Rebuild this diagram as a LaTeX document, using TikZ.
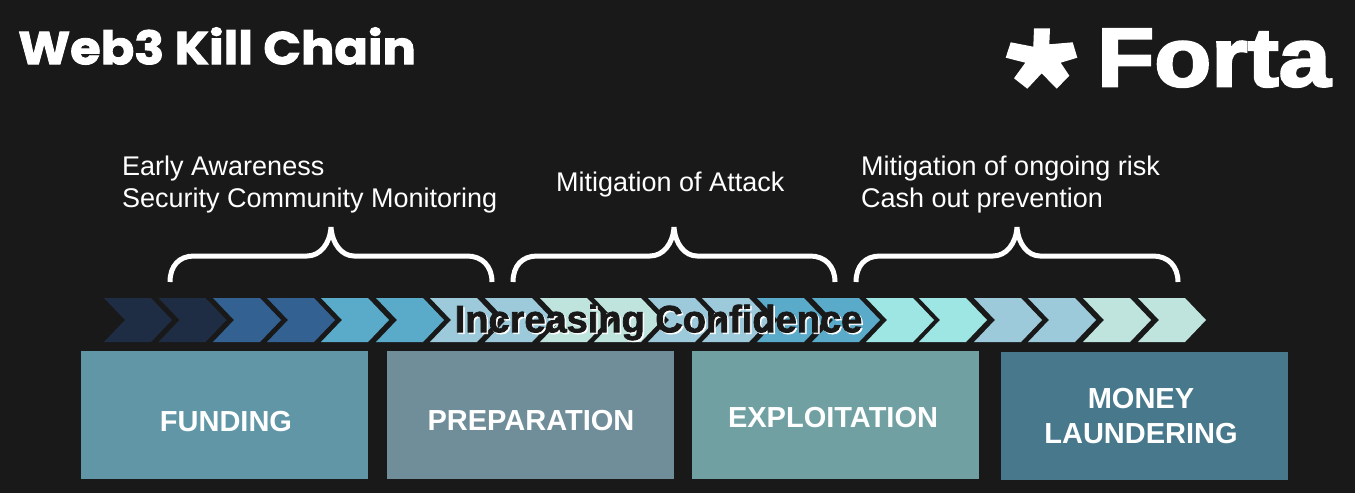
\documentclass[tikz,border=0pt]{standalone}
\usepackage{xcolor}
\usepackage{fontspec}
\setmainfont{Liberation Sans}
\newfontfamily\titlefont[BoldFeatures={FakeBold=2,FakeStretch=1.075}]{Poppins}
\newfontfamily\logofont[BoldFeatures={FakeBold=3,FakeStretch=1.125}]{Liberation Sans}
\newfontfamily\bandfont[BoldFeatures={FakeBold=2}]{Liberation Sans}
\definecolor{bgdark}{HTML}{191919}
\definecolor{navy}{HTML}{1F2D44}
\definecolor{steel}{HTML}{336192}
\definecolor{sky}{HTML}{5AAAC9}
\definecolor{haze}{HTML}{9CCADB}
\definecolor{mint}{HTML}{BFE4DE}
\definecolor{aqua}{HTML}{9DE6E4}
\definecolor{fundcol}{HTML}{6096A6}
\definecolor{prepcol}{HTML}{708E9A}
\definecolor{explcol}{HTML}{70A0A2}
\definecolor{launcol}{HTML}{47788C}
\begin{document}
\begin{tikzpicture}[
        x=1pt, y=-1pt,
        stage/.style={minimum width=287pt, minimum height=128pt, inner sep=0pt},
        stagetext/.style={inner sep=0pt, align=center, text=white, font=\fontsize{29}{34.5}\selectfont\bfseries},
        goal/.style={text=white, align=left, inner sep=0pt, font=\fontsize{27}{32}\selectfont},
        confidence/.style={inner sep=0pt, font=\fontsize{38}{44}\selectfont\bandfont\bfseries},
        curly/.pic={\draw[white, line width=5pt] (0,26) .. controls (0,10) and (9,0) .. (24,0)
            -- (137,0) .. controls (150,0) and (160,-12) .. (161,-29)
            .. controls (162,-12) and (172,0) .. (184,0)
            -- (297,0) .. controls (312,0) and (322,10) .. (322,26);}
    ]
        \fill[bgdark] (0,0) rectangle (1355,493);
        % title and logo
        \node[anchor=west, inner sep=0pt, text=white, font=\fontsize{46}{50}\selectfont\titlefont\bfseries] (title) at (18,46) {Web3 Kill Chain};
        \fill[white] (1034,28.3) -- (1050,28.3) -- (1049.3,44.3) -- (1072.7,42.3) -- (1077.3,57.7) -- (1060.7,62.7)
            -- (1069.3,75.7) -- (1056.7,88.7) -- (1041.7,73.3) -- (1027.3,88.7) -- (1014,78.3) -- (1025.3,62.7)
            -- (1005.7,57.7) -- (1010.7,42.3) -- (1033.3,46.7) -- cycle;
        \node[anchor=west, inner sep=0pt, text=white, font=\fontsize{83}{90}\selectfont\logofont\bfseries] (logo) at (1097,58) {Forta};
        % what each stage gets
        \node[goal, anchor=north west] (early) at (122,156) {Early Awareness\\Security Community Monitoring};
        \node[goal, anchor=west] (attack) at (556,185) {Mitigation of Attack};
        \node[goal, anchor=north west] (risk) at (861,156) {Mitigation of ongoing risk\\Cash out prevention};
        \pic at (170,256) {curly};
        \pic at (513,256) {curly};
        \pic at (856,256) {curly};
        % chevron band
        \foreach \x/\c in {104/navy, 158.5/navy, 213/steel, 267/steel, 321/sky, 376/sky, 430/haze,
                485/haze, 540/mint, 594/mint, 648/haze, 702/haze, 757/sky, 812/sky, 866/aqua,
                919/aqua, 974/haze, 1028/haze, 1083/mint, 1138/mint}
            \fill[\c] (\x,298) -- +(47,0) -- +(68,22) -- +(47,44) -- +(0,44) -- +(21,22) -- cycle;
        \node[confidence, text=white] (glow) at (660,324) {Increasing Confidence};
        \node[confidence, text=bgdark] (confidence) at (658.5,322.5) {Increasing Confidence};
        % stages
        \node[stage, fill=fundcol] (funding) at (224.5,414.5) {};
        \node[stage, fill=prepcol] (preparation) at (530.5,415) {};
        \node[stage, fill=explcol] (exploitation) at (835.5,415) {};
        \node[stage, fill=launcol] (laundering) at (1144.5,415.5) {};
        \node[stagetext] (fundinglabel) at (226,422) {FUNDING};
        \node[stagetext] (preparationlabel) at (531,421) {PREPARATION};
        \node[stagetext] (exploitationlabel) at (833,418) {EXPLOITATION};
        \node[stagetext] (launderinglabel) at (1141,416) {MONEY\\LAUNDERING};
    \end{tikzpicture}
\end{document}
